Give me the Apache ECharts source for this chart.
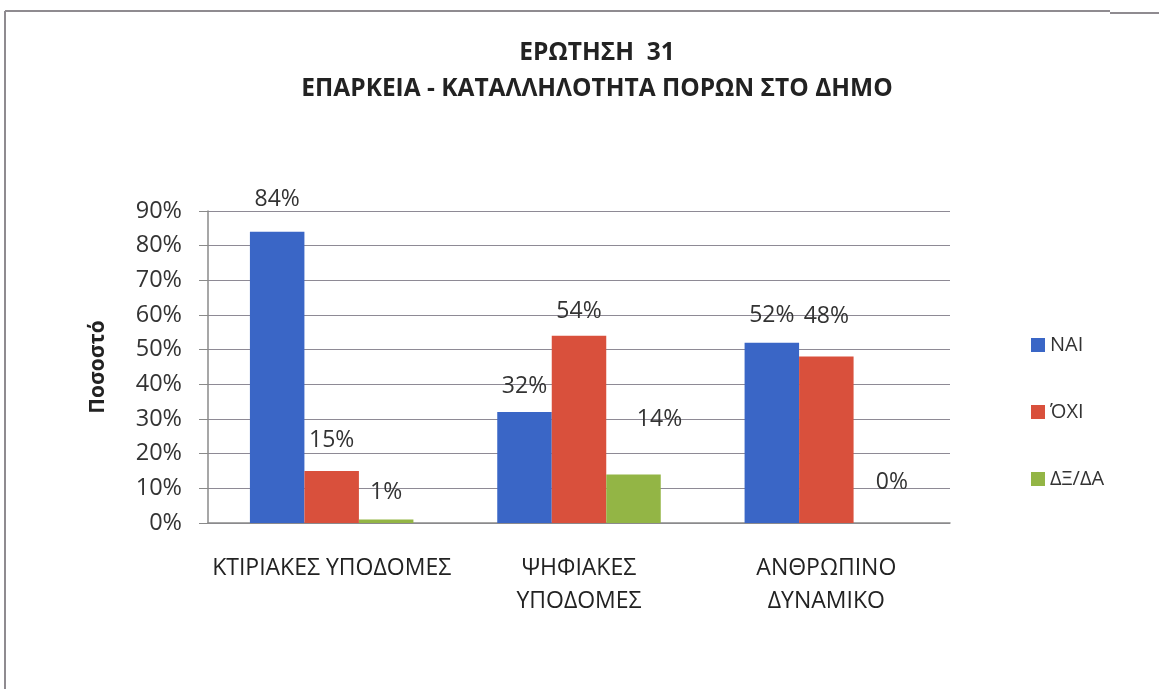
<!DOCTYPE html>
<html>
<head>
<meta charset="utf-8">
<script src="https://cdn.jsdelivr.net/npm/echarts@6/dist/echarts.min.js"></script>
<style>
  html, body { margin: 0; padding: 0; background: #fff; }
  #chart { width: 1159px; height: 689px; }
</style>
</head>
<body>
<div id="chart"></div>
<script>
const categories = ["ΚΤΙΡΙΑΚΕΣ ΥΠΟΔΟΜΕΣ", "ΨΗΦΙΑΚΕΣ\nΥΠΟΔΟΜΕΣ", "ΑΝΘΡΩΠΙΝΟ\nΔΥΝΑΜΙΚΟ"];
const seriesNames = ["ΝΑΙ", "ΌΧΙ", "ΔΞ/ΔΑ"];
const naiValues = [84, 32, 52];
const oxiValues = [15, 54, 48];
const dkValues = [1, 14, 0];
const yTicks = [0, 10, 20, 30, 40, 50, 60, 70, 80, 90];

const colorList = ["#3A66C6", "#D9503C", "#93B545"];
// label nudges per series / category, to sit where the original labels sit
const labelShift = [
  [[0, -5], [0, 2], [0, 0]],
  [[0, -3], [0, 3], [0, -13]],
  [[0, 0], [26, -28], [11, -13]],
];

const font = "'Open Sans', 'Liberation Sans', sans-serif";
const allValues = [naiValues, oxiValues, dkValues];

const chart = echarts.init(document.getElementById("chart"));
chart.setOption({
  backgroundColor: "#fff",
  animation: false,
  title: {
    text: "ΕΡΩΤΗΣΗ  31\nΕΠΑΡΚΕΙΑ - ΚΑΤΑΛΛΗΛΟΤΗΤΑ ΠΟΡΩΝ ΣΤΟ ΔΗΜΟ",
    left: 592,
    textAlign: "center",
    top: 30,
    textStyle: {
      fontFamily: font,
      fontSize: 24.5,
      fontWeight: "bold",
      color: "#222",
      lineHeight: 36,
    },
  },
  graphic: [
    { type: "line", shape: { x1: 5, y1: 11, x2: 1110, y2: 11 }, style: { stroke: "#8f8b90", lineWidth: 2 } },
    { type: "line", shape: { x1: 1110, y1: 13, x2: 1159, y2: 13 }, style: { stroke: "#8f8b90", lineWidth: 2 } },
    { type: "line", shape: { x1: 5, y1: 11, x2: 5, y2: 689 }, style: { stroke: "#8f8b90", lineWidth: 2 } },
  ],
  legend: {
    orient: "vertical",
    left: 1026,
    top: 330,
    itemGap: 47,
    itemWidth: 14,
    itemHeight: 14,
    icon: "rect",
    data: seriesNames,
    textStyle: { fontFamily: font, fontSize: 20, color: "#333" },
  },
  grid: {
    left: 208,
    right: 209,
    top: 211,
    bottom: 166,
  },
  xAxis: {
    type: "category",
    data: categories,
    axisLine: { lineStyle: { color: "#8a8a8a", width: 1.5 } },
    axisTick: { show: false },
    axisLabel: {
      fontFamily: font,
      fontSize: 23,
      color: "#222",
      lineHeight: 33,
      margin: 29,
      interval: 0,
    },
  },
  yAxis: {
    type: "value",
    min: 0,
    max: 90,
    interval: 10,
    name: "Ποσοστό",
    nameLocation: "middle",
    nameGap: 99,
    nameRotate: 90,
    nameTextStyle: { fontFamily: font, fontSize: 21, fontWeight: "bold", color: "#222" },
    axisLine: { show: true, lineStyle: { color: "#8a8a8a", width: 1.5 } },
    axisTick: { show: true, length: 9, lineStyle: { color: "#8a8a8a" } },
    axisLabel: {
      fontFamily: font,
      fontSize: 23.5,
      color: "#333",
      margin: 26,
      formatter: (v) => (yTicks.includes(v) ? v + "%" : ""),
    },
    splitLine: { lineStyle: { color: "#8e8a95", width: 1 } },
  },
  series: seriesNames.map((name, si) => ({
    name: name,
    type: "bar",
    barWidth: 54.5,
    barGap: "0%",
    barCategoryGap: "33.5%",
    itemStyle: { color: colorList[si] },
    label: {
      show: true,
      position: "top",
      distance: 16,
      fontFamily: font,
      fontSize: 23,
      color: "#333",
      formatter: (p) => p.value + "%",
    },
    data: allValues[si].map((v, ci) => ({
      value: v,
      label: { offset: labelShift[si][ci] },
    })),
  })),
});
</script>
</body>
</html>
